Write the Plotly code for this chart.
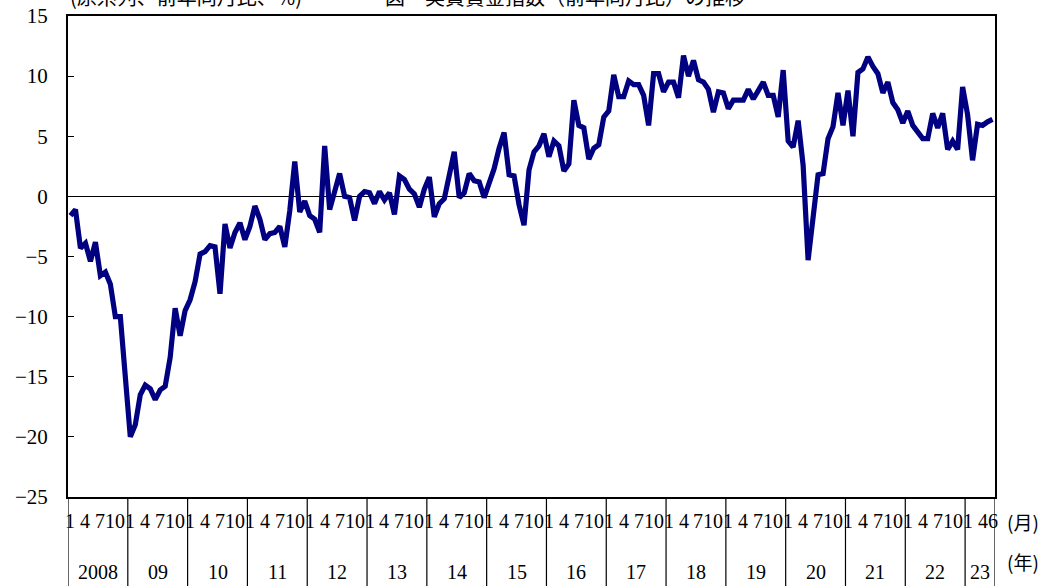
import plotly.graph_objects as go

# Monthly values, Jan 2008 - Jun 2023 (year-on-year %)
values = [
    -1.6, -1.1, -4.3, -3.9, -5.4, -3.8, -6.6, -6.3, -7.3, -10.0, -10.0, -15.0,   # 2008
    -20.0, -19.0, -16.5, -15.7, -16.0, -16.9, -16.1, -15.8, -13.4, -9.3, -11.6, -9.5,  # 2009
    -8.6, -7.1, -4.8, -4.6, -4.1, -4.2, -8.1, -2.3, -4.3, -3.0, -2.2, -3.6,   # 2010
    -2.5, -0.8, -1.9, -3.6, -3.1, -3.0, -2.5, -4.2, -1.2, 2.9, -1.3, -0.4,    # 2011
    -1.6, -1.9, -3.0, 4.2, -1.1, 0.4, 1.9, 0.0, -0.1, -2.0, 0.0, 0.4,        # 2012
    0.3, -0.6, 0.4, -0.3, 0.3, -1.5, 1.7, 1.4, 0.6, 0.2, -0.9, 0.6,          # 2013
    1.6, -1.7, -0.6, -0.2, 1.9, 3.7, -0.1, 0.3, 1.9, 1.3, 1.2, -0.1,         # 2014
    1.1, 2.3, 4.0, 5.3, 1.8, 1.7, -0.7, -2.4, 2.2, 3.7, 4.2, 5.2,            # 2015
    3.3, 4.6, 4.2, 2.1, 2.7, 8.0, 5.9, 5.7, 3.1, 4.0, 4.3, 6.6,              # 2016
    7.1, 10.1, 8.3, 8.3, 9.6, 9.3, 9.3, 8.4, 5.9, 10.2, 10.2, 8.7,           # 2017
    9.5, 9.5, 8.2, 11.7, 10.0, 11.3, 9.7, 9.5, 8.9, 7.0, 8.7, 8.6,           # 2018
    7.3, 8.0, 8.0, 8.0, 8.9, 8.1, 8.8, 9.5, 8.4, 8.4, 6.6, 10.5,             # 2019
    4.6, 4.1, 6.3, 2.6, -5.3, -2.1, 1.8, 1.9, 4.8, 5.8, 8.6, 5.9,            # 2020
    8.8, 5.0, 10.3, 10.6, 11.6, 10.8, 10.2, 8.6, 9.5, 7.8, 7.2, 6.1,         # 2021
    7.1, 5.9, 5.3, 4.8, 4.8, 6.9, 5.7, 6.9, 3.9, 4.6, 3.9, 9.1,              # 2022
    6.8, 3.0, 6.0, 5.9, 6.2, 6.4,                                            # 2023
]

years = ["2008", "09", "10", "11", "12", "13", "14", "15",
         "16", "17", "18", "19", "20", "21", "22", "23"]
month_labels = ["1", "4", "7", "10"]
last_year_months = ["1", "4", "6"]
y_ticks = [-25, -20, -15, -10, -5, 0, 5, 10, 15]

n = len(values)
x_idx = list(range(n))

fig = go.Figure()
fig.add_trace(go.Scatter(
    x=x_idx, y=values, mode="lines",
    line=dict(color="#000080", width=5.2),
    hoverinfo="skip", showlegend=False,
))

serif = "Liberation Serif, DejaVu Serif, serif"
cjk = "Noto Sans CJK JP, sans-serif"

annotations = []
shapes = []
# month labels, year labels and separators
for k, yr in enumerate(years):
    start = 12 * k
    if k < len(years) - 1:
        months = month_labels
        end = start + 12
    else:
        months = last_year_months
        end = n
    for m in months:
        pos = start + int(m) - 1
        annotations.append(dict(
            x=pos, y=-0.05, xref="x", yref="paper", text=m, showarrow=False,
            font=dict(family=serif, size=20, color="black"),
            xanchor="center", yanchor="middle"))
    annotations.append(dict(
        x=(start - 0.5 + end - 0.5) / 2, y=-0.155, xref="x", yref="paper",
        text=yr, showarrow=False,
        font=dict(family=serif, size=20, color="black"),
        xanchor="center", yanchor="middle"))
    shapes.append(dict(type="line", xref="x", yref="paper",
                       x0=start - 0.5, x1=start - 0.5, y0=0, y1=-0.2,
                       line=dict(color="black", width=1.2)))
shapes.append(dict(type="line", xref="x", yref="paper",
                   x0=n - 0.5, x1=n - 0.5, y0=0, y1=-0.2,
                   line=dict(color="black", width=1.2)))

annotations.append(dict(x=1.0, y=-0.05, xref="paper", yref="paper",
                        text="(月)", showarrow=False, xanchor="left", xshift=10,
                        font=dict(family=cjk, size=19, color="black"), yanchor="middle"))
annotations.append(dict(x=1.0, y=-0.135, xref="paper", yref="paper",
                        text="(年)", showarrow=False, xanchor="left", xshift=10,
                        font=dict(family=cjk, size=19, color="black"), yanchor="middle"))
# title, mostly cut off at the top of the image (as in the reference)
annotations.append(dict(x=0.0, y=1.041, xref="paper", yref="paper",
                        text="(原系列、前年同月比、%)", showarrow=False, xanchor="left",
                        font=dict(family=cjk, size=20, color="black"), yanchor="middle"))
annotations.append(dict(x=0.34, y=1.041, xref="paper", yref="paper",
                        text="図　実質賃金指数（前年同月比）の推移", showarrow=False, xanchor="left",
                        font=dict(family=cjk, size=20, color="black"), yanchor="middle"))

fig.update_layout(
    width=1052, height=586,
    margin=dict(l=68, r=57, t=16, b=89),
    paper_bgcolor="white", plot_bgcolor="white",
    annotations=annotations, shapes=shapes,
    xaxis=dict(range=[-0.5, n - 0.5], showticklabels=False, ticks="",
               showgrid=False, zeroline=False, showline=True, automargin=False,
               linecolor="black", linewidth=2, mirror=True),
    yaxis=dict(range=[-25, 15], tickvals=y_ticks, ticks="inside", ticklen=6,
               tickcolor="black", tickwidth=1, showgrid=False, automargin=False,
               zeroline=True, zerolinecolor="black", zerolinewidth=1,
               showline=True, linecolor="black", linewidth=2, mirror=True,
               ticklabelstandoff=14,
               tickfont=dict(family=serif, size=21, color="black")),
)

fig.write_html(
    "out.html",
    config={"displayModeBar": False},
    post_script="document.body.style.margin='0';document.body.style.overflow='hidden';",
)
